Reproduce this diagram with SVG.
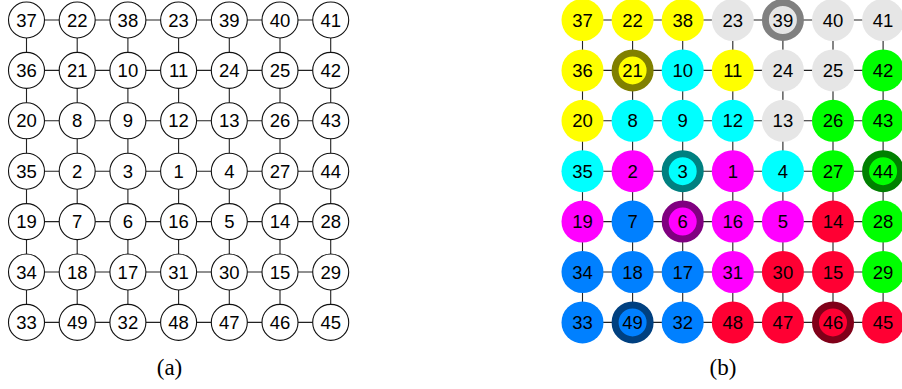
<svg xmlns="http://www.w3.org/2000/svg" width="902" height="389" viewBox="0 0 902 389">
<style>
.e{stroke:#222;stroke-width:1.1;fill:none}
.na{fill:#fff;stroke:#111;stroke-width:1.1}
.t{font-family:"Liberation Sans",Arial,sans-serif;font-size:18.5px;text-anchor:middle;fill:#000}
.cap{font-family:"Liberation Serif","Times New Roman",serif;font-size:23px;text-anchor:middle;fill:#000}
.Y{fill:#ffff00}.C{fill:#00ffff}.G{fill:#e6e6e6}.V{fill:#00ff00}.M{fill:#ff00ff}.B{fill:#0080ff}.R{fill:#ff0033}
.r{stroke-width:7}
</style>
<rect width="902" height="389" fill="#fff"/>
<g id="connectors">
<path class="e" d="M26.5 20H330.7M26.5 70.4H330.7M26.5 120.8H330.7M26.5 171.2H330.7M26.5 221.6H330.7M26.5 272H330.7M26.5 322.4H330.7M26.5 20V322.4M77.2 20V322.4M127.9 20V322.4M178.6 20V322.4M229.3 20V322.4M280 20V322.4M330.7 20V322.4"/>
<path class="e" d="M582.5 20H883.1M582.5 70.4H883.1M582.5 120.8H883.1M582.5 171.2H883.1M582.5 221.6H883.1M582.5 272H883.1M582.5 322.4H883.1M582.5 20V322.4M632.6 20V322.4M682.7 20V322.4M732.8 20V322.4M782.9 20V322.4M833 20V322.4M883.1 20V322.4"/>
</g>
<g id="panel-a">
<g id="a37"><circle class="na" cx="26.5" cy="20" r="18"/><text class="t" x="26.5" y="26.6">37</text></g>
<g id="a22"><circle class="na" cx="77.2" cy="20" r="18"/><text class="t" x="77.2" y="26.6">22</text></g>
<g id="a38"><circle class="na" cx="127.9" cy="20" r="18"/><text class="t" x="127.9" y="26.6">38</text></g>
<g id="a23"><circle class="na" cx="178.6" cy="20" r="18"/><text class="t" x="178.6" y="26.6">23</text></g>
<g id="a39"><circle class="na" cx="229.3" cy="20" r="18"/><text class="t" x="229.3" y="26.6">39</text></g>
<g id="a40"><circle class="na" cx="280" cy="20" r="18"/><text class="t" x="280" y="26.6">40</text></g>
<g id="a41"><circle class="na" cx="330.7" cy="20" r="18"/><text class="t" x="330.7" y="26.6">41</text></g>
<g id="a36"><circle class="na" cx="26.5" cy="70.4" r="18"/><text class="t" x="26.5" y="77">36</text></g>
<g id="a21"><circle class="na" cx="77.2" cy="70.4" r="18"/><text class="t" x="77.2" y="77">21</text></g>
<g id="a10"><circle class="na" cx="127.9" cy="70.4" r="18"/><text class="t" x="127.9" y="77">10</text></g>
<g id="a11"><circle class="na" cx="178.6" cy="70.4" r="18"/><text class="t" x="178.6" y="77">11</text></g>
<g id="a24"><circle class="na" cx="229.3" cy="70.4" r="18"/><text class="t" x="229.3" y="77">24</text></g>
<g id="a25"><circle class="na" cx="280" cy="70.4" r="18"/><text class="t" x="280" y="77">25</text></g>
<g id="a42"><circle class="na" cx="330.7" cy="70.4" r="18"/><text class="t" x="330.7" y="77">42</text></g>
<g id="a20"><circle class="na" cx="26.5" cy="120.8" r="18"/><text class="t" x="26.5" y="127.4">20</text></g>
<g id="a8"><circle class="na" cx="77.2" cy="120.8" r="18"/><text class="t" x="77.2" y="127.4">8</text></g>
<g id="a9"><circle class="na" cx="127.9" cy="120.8" r="18"/><text class="t" x="127.9" y="127.4">9</text></g>
<g id="a12"><circle class="na" cx="178.6" cy="120.8" r="18"/><text class="t" x="178.6" y="127.4">12</text></g>
<g id="a13"><circle class="na" cx="229.3" cy="120.8" r="18"/><text class="t" x="229.3" y="127.4">13</text></g>
<g id="a26"><circle class="na" cx="280" cy="120.8" r="18"/><text class="t" x="280" y="127.4">26</text></g>
<g id="a43"><circle class="na" cx="330.7" cy="120.8" r="18"/><text class="t" x="330.7" y="127.4">43</text></g>
<g id="a35"><circle class="na" cx="26.5" cy="171.2" r="18"/><text class="t" x="26.5" y="177.8">35</text></g>
<g id="a2"><circle class="na" cx="77.2" cy="171.2" r="18"/><text class="t" x="77.2" y="177.8">2</text></g>
<g id="a3"><circle class="na" cx="127.9" cy="171.2" r="18"/><text class="t" x="127.9" y="177.8">3</text></g>
<g id="a1"><circle class="na" cx="178.6" cy="171.2" r="18"/><text class="t" x="178.6" y="177.8">1</text></g>
<g id="a4"><circle class="na" cx="229.3" cy="171.2" r="18"/><text class="t" x="229.3" y="177.8">4</text></g>
<g id="a27"><circle class="na" cx="280" cy="171.2" r="18"/><text class="t" x="280" y="177.8">27</text></g>
<g id="a44"><circle class="na" cx="330.7" cy="171.2" r="18"/><text class="t" x="330.7" y="177.8">44</text></g>
<g id="a19"><circle class="na" cx="26.5" cy="221.6" r="18"/><text class="t" x="26.5" y="228.2">19</text></g>
<g id="a7"><circle class="na" cx="77.2" cy="221.6" r="18"/><text class="t" x="77.2" y="228.2">7</text></g>
<g id="a6"><circle class="na" cx="127.9" cy="221.6" r="18"/><text class="t" x="127.9" y="228.2">6</text></g>
<g id="a16"><circle class="na" cx="178.6" cy="221.6" r="18"/><text class="t" x="178.6" y="228.2">16</text></g>
<g id="a5"><circle class="na" cx="229.3" cy="221.6" r="18"/><text class="t" x="229.3" y="228.2">5</text></g>
<g id="a14"><circle class="na" cx="280" cy="221.6" r="18"/><text class="t" x="280" y="228.2">14</text></g>
<g id="a28"><circle class="na" cx="330.7" cy="221.6" r="18"/><text class="t" x="330.7" y="228.2">28</text></g>
<g id="a34"><circle class="na" cx="26.5" cy="272" r="18"/><text class="t" x="26.5" y="278.6">34</text></g>
<g id="a18"><circle class="na" cx="77.2" cy="272" r="18"/><text class="t" x="77.2" y="278.6">18</text></g>
<g id="a17"><circle class="na" cx="127.9" cy="272" r="18"/><text class="t" x="127.9" y="278.6">17</text></g>
<g id="a31"><circle class="na" cx="178.6" cy="272" r="18"/><text class="t" x="178.6" y="278.6">31</text></g>
<g id="a30"><circle class="na" cx="229.3" cy="272" r="18"/><text class="t" x="229.3" y="278.6">30</text></g>
<g id="a15"><circle class="na" cx="280" cy="272" r="18"/><text class="t" x="280" y="278.6">15</text></g>
<g id="a29"><circle class="na" cx="330.7" cy="272" r="18"/><text class="t" x="330.7" y="278.6">29</text></g>
<g id="a33"><circle class="na" cx="26.5" cy="322.4" r="18"/><text class="t" x="26.5" y="329">33</text></g>
<g id="a49"><circle class="na" cx="77.2" cy="322.4" r="18"/><text class="t" x="77.2" y="329">49</text></g>
<g id="a32"><circle class="na" cx="127.9" cy="322.4" r="18"/><text class="t" x="127.9" y="329">32</text></g>
<g id="a48"><circle class="na" cx="178.6" cy="322.4" r="18"/><text class="t" x="178.6" y="329">48</text></g>
<g id="a47"><circle class="na" cx="229.3" cy="322.4" r="18"/><text class="t" x="229.3" y="329">47</text></g>
<g id="a46"><circle class="na" cx="280" cy="322.4" r="18"/><text class="t" x="280" y="329">46</text></g>
<g id="a45"><circle class="na" cx="330.7" cy="322.4" r="18"/><text class="t" x="330.7" y="329">45</text></g>
</g>
<g id="panel-b">
<g id="b37"><circle class="Y" cx="582.5" cy="20" r="21"/><text class="t" x="582.5" y="26.6">37</text></g>
<g id="b22"><circle class="Y" cx="632.6" cy="20" r="21"/><text class="t" x="632.6" y="26.6">22</text></g>
<g id="b38"><circle class="Y" cx="682.7" cy="20" r="21"/><text class="t" x="682.7" y="26.6">38</text></g>
<g id="b23"><circle class="G" cx="732.8" cy="20" r="21"/><text class="t" x="732.8" y="26.6">23</text></g>
<g id="b39"><circle class="G r" stroke="#808080" cx="782.9" cy="20" r="17.5"/><text class="t" x="782.9" y="26.6">39</text></g>
<g id="b40"><circle class="G" cx="833" cy="20" r="21"/><text class="t" x="833" y="26.6">40</text></g>
<g id="b41"><circle class="G" cx="883.1" cy="20" r="21"/><text class="t" x="883.1" y="26.6">41</text></g>
<g id="b36"><circle class="Y" cx="582.5" cy="70.4" r="21"/><text class="t" x="582.5" y="77">36</text></g>
<g id="b21"><circle class="Y r" stroke="#808000" cx="632.6" cy="70.4" r="17.5"/><text class="t" x="632.6" y="77">21</text></g>
<g id="b10"><circle class="C" cx="682.7" cy="70.4" r="21"/><text class="t" x="682.7" y="77">10</text></g>
<g id="b11"><circle class="Y" cx="732.8" cy="70.4" r="21"/><text class="t" x="732.8" y="77">11</text></g>
<g id="b24"><circle class="G" cx="782.9" cy="70.4" r="21"/><text class="t" x="782.9" y="77">24</text></g>
<g id="b25"><circle class="G" cx="833" cy="70.4" r="21"/><text class="t" x="833" y="77">25</text></g>
<g id="b42"><circle class="V" cx="883.1" cy="70.4" r="21"/><text class="t" x="883.1" y="77">42</text></g>
<g id="b20"><circle class="Y" cx="582.5" cy="120.8" r="21"/><text class="t" x="582.5" y="127.4">20</text></g>
<g id="b8"><circle class="C" cx="632.6" cy="120.8" r="21"/><text class="t" x="632.6" y="127.4">8</text></g>
<g id="b9"><circle class="C" cx="682.7" cy="120.8" r="21"/><text class="t" x="682.7" y="127.4">9</text></g>
<g id="b12"><circle class="C" cx="732.8" cy="120.8" r="21"/><text class="t" x="732.8" y="127.4">12</text></g>
<g id="b13"><circle class="G" cx="782.9" cy="120.8" r="21"/><text class="t" x="782.9" y="127.4">13</text></g>
<g id="b26"><circle class="V" cx="833" cy="120.8" r="21"/><text class="t" x="833" y="127.4">26</text></g>
<g id="b43"><circle class="V" cx="883.1" cy="120.8" r="21"/><text class="t" x="883.1" y="127.4">43</text></g>
<g id="b35"><circle class="C" cx="582.5" cy="171.2" r="21"/><text class="t" x="582.5" y="177.8">35</text></g>
<g id="b2"><circle class="M" cx="632.6" cy="171.2" r="21"/><text class="t" x="632.6" y="177.8">2</text></g>
<g id="b3"><circle class="C r" stroke="#008080" cx="682.7" cy="171.2" r="17.5"/><text class="t" x="682.7" y="177.8">3</text></g>
<g id="b1"><circle class="M" cx="732.8" cy="171.2" r="21"/><text class="t" x="732.8" y="177.8">1</text></g>
<g id="b4"><circle class="C" cx="782.9" cy="171.2" r="21"/><text class="t" x="782.9" y="177.8">4</text></g>
<g id="b27"><circle class="V" cx="833" cy="171.2" r="21"/><text class="t" x="833" y="177.8">27</text></g>
<g id="b44"><circle class="V r" stroke="#008000" cx="883.1" cy="171.2" r="17.5"/><text class="t" x="883.1" y="177.8">44</text></g>
<g id="b19"><circle class="M" cx="582.5" cy="221.6" r="21"/><text class="t" x="582.5" y="228.2">19</text></g>
<g id="b7"><circle class="B" cx="632.6" cy="221.6" r="21"/><text class="t" x="632.6" y="228.2">7</text></g>
<g id="b6"><circle class="M r" stroke="#800080" cx="682.7" cy="221.6" r="17.5"/><text class="t" x="682.7" y="228.2">6</text></g>
<g id="b16"><circle class="M" cx="732.8" cy="221.6" r="21"/><text class="t" x="732.8" y="228.2">16</text></g>
<g id="b5"><circle class="M" cx="782.9" cy="221.6" r="21"/><text class="t" x="782.9" y="228.2">5</text></g>
<g id="b14"><circle class="R" cx="833" cy="221.6" r="21"/><text class="t" x="833" y="228.2">14</text></g>
<g id="b28"><circle class="V" cx="883.1" cy="221.6" r="21"/><text class="t" x="883.1" y="228.2">28</text></g>
<g id="b34"><circle class="B" cx="582.5" cy="272" r="21"/><text class="t" x="582.5" y="278.6">34</text></g>
<g id="b18"><circle class="B" cx="632.6" cy="272" r="21"/><text class="t" x="632.6" y="278.6">18</text></g>
<g id="b17"><circle class="B" cx="682.7" cy="272" r="21"/><text class="t" x="682.7" y="278.6">17</text></g>
<g id="b31"><circle class="M" cx="732.8" cy="272" r="21"/><text class="t" x="732.8" y="278.6">31</text></g>
<g id="b30"><circle class="R" cx="782.9" cy="272" r="21"/><text class="t" x="782.9" y="278.6">30</text></g>
<g id="b15"><circle class="R" cx="833" cy="272" r="21"/><text class="t" x="833" y="278.6">15</text></g>
<g id="b29"><circle class="V" cx="883.1" cy="272" r="21"/><text class="t" x="883.1" y="278.6">29</text></g>
<g id="b33"><circle class="B" cx="582.5" cy="322.4" r="21"/><text class="t" x="582.5" y="329">33</text></g>
<g id="b49"><circle class="B r" stroke="#004080" cx="632.6" cy="322.4" r="17.5"/><text class="t" x="632.6" y="329">49</text></g>
<g id="b32"><circle class="B" cx="682.7" cy="322.4" r="21"/><text class="t" x="682.7" y="329">32</text></g>
<g id="b48"><circle class="R" cx="732.8" cy="322.4" r="21"/><text class="t" x="732.8" y="329">48</text></g>
<g id="b47"><circle class="R" cx="782.9" cy="322.4" r="21"/><text class="t" x="782.9" y="329">47</text></g>
<g id="b46"><circle class="R r" stroke="#800019" cx="833" cy="322.4" r="17.5"/><text class="t" x="833" y="329">46</text></g>
<g id="b45"><circle class="R" cx="883.1" cy="322.4" r="21"/><text class="t" x="883.1" y="329">45</text></g>
</g>
<text class="cap" x="169.5" y="375">(a)</text>
<text class="cap" x="723" y="375">(b)</text>
</svg>
